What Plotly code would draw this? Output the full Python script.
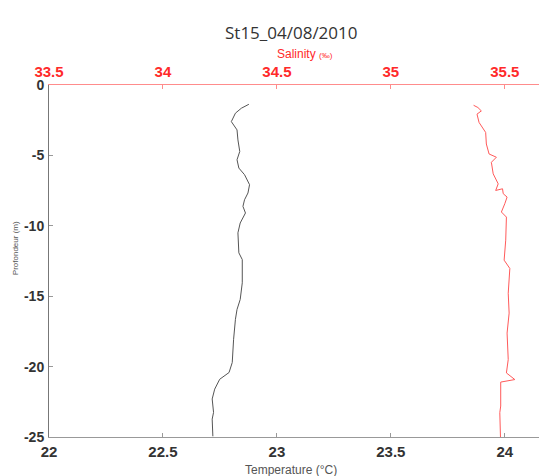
import plotly.graph_objects as go

# Temperature profile (°C) vs depth (m)
temp_depth = [-1.37, -1.65, -2.0, -2.6, -3.19, -3.9, -4.72, -5.31, -5.9, -6.37, -7.08, -7.67, -8.15,
              -8.62, -9.09, -9.8, -10.5, -11.92, -12.4, -14.05, -15.23, -15.94, -16.64,
              -18.06, -19.71, -20.42, -20.9, -21.6, -22.3, -23.25, -23.73, -24.95]
temperature = [22.877, 22.844, 22.818, 22.800, 22.825, 22.829, 22.837, 22.825, 22.833, 22.858, 22.880, 22.873, 22.858,
               22.851, 22.862, 22.839, 22.829, 22.833, 22.848, 22.848, 22.839, 22.825, 22.818,
               22.810, 22.804, 22.790, 22.749, 22.727, 22.716, 22.722, 22.716, 22.719]

# Salinity profile (‰) vs depth (m)
sal_depth = [-1.44, -1.6, -1.84, -2.07, -2.66, -3.13, -3.37, -4.19, -4.9, -5.13, -5.49, -6.31, -7.02,
             -7.49, -7.37, -7.72, -7.96, -8.43, -9.02, -9.38, -11.02, -12.44, -13.03, -14.79, -16.2,
             -17.62, -19.5, -20.45, -20.92, -21.1, -22.8, -23.27, -25.0]
salinity = [35.363, 35.382, 35.397, 35.378, 35.387, 35.404, 35.416, 35.419, 35.431, 35.463, 35.441, 35.449, 35.471,
            35.46, 35.49, 35.493, 35.51, 35.5, 35.485, 35.507, 35.504, 35.497, 35.522, 35.515, 35.519,
            35.51, 35.515, 35.507, 35.544, 35.482, 35.482, 35.478, 35.481]

temp_ticks = [22, 22.5, 23, 23.5, 24]
sal_ticks = [33.5, 34, 34.5, 35, 35.5]
depth_ticks = [-25, -20, -15, -10, -5, 0]

title_text = "St15_04/08/2010"
x_title = "Temperature (°C)"
x2_title = "Salinity"
y_title = "Profondeur (m)"

RED = "#ff2a2a"
FONT = "Liberation Sans, Arial, sans-serif"

fig = go.Figure()
fig.add_trace(go.Scatter(x=temperature, y=temp_depth, mode="lines",
                         line=dict(color="#555", width=1), xaxis="x", yaxis="y",
                         showlegend=False, hoverinfo="skip"))
fig.add_trace(go.Scatter(x=salinity, y=sal_depth, mode="lines",
                         line=dict(color="#ff5a5a", width=1), xaxis="x2", yaxis="y",
                         showlegend=False, hoverinfo="skip"))

fig.update_layout(
    width=539, height=476,
    margin=dict(l=49, r=0, t=85, b=39),
    paper_bgcolor="white", plot_bgcolor="white",
    xaxis=dict(range=[22, 24.15], tickvals=temp_ticks, ticktext=[str(t) for t in temp_ticks],
               ticks="inside", ticklen=4, tickcolor="#999", showline=True, linecolor="#999",
               linewidth=1, showgrid=False, zeroline=False,
               tickfont=dict(family=FONT, size=15, color="#333", weight="bold"), ticklabelstandoff=1),
    xaxis2=dict(range=[33.5, 35.65], tickvals=sal_ticks, ticktext=[str(t) for t in sal_ticks],
                overlaying="x", side="top", anchor="y",
                ticks="inside", ticklen=4, tickcolor="#ff8c8c", showline=True, linecolor="#ff8c8c",
                linewidth=1, showgrid=False, zeroline=False,
                tickfont=dict(family=FONT, size=15, color=RED, weight="bold"),
                ticklabelstandoff=1),
    yaxis=dict(range=[-25, 0], tickvals=depth_ticks, ticktext=[str(t) for t in depth_ticks],
               ticks="inside", ticklen=4, tickcolor="#999", showline=True, linecolor="#777",
               linewidth=1, showgrid=False, zeroline=False,
               tickfont=dict(family=FONT, size=14, color="#333", weight="bold"), ticklabelstandoff=1),
    annotations=[
        dict(text=title_text, x=0.494, y=1.148, xref="paper", yref="paper", showarrow=False,
             yanchor="middle", font=dict(family="Open Sans, sans-serif", size=17, color="#333")),
        dict(text=x2_title + " <span style='font-size:8px'>(‰)</span>", x=0.522, y=1.088,
             xref="paper", yref="paper", showarrow=False, yanchor="middle",
             font=dict(family=FONT, size=12, color=RED)),
        dict(text=x_title, x=0.494, y=-0.094, xref="paper", yref="paper", showarrow=False,
             yanchor="middle", font=dict(family=FONT, size=12, color="#555")),
        dict(text=y_title, x=-0.067, y=0.537, xref="paper", yref="paper", showarrow=False,
             textangle=-90, xanchor="center", yanchor="middle",
             font=dict(family=FONT, size=8, color="#555")),
    ],
)

fig.write_html("out.html")
